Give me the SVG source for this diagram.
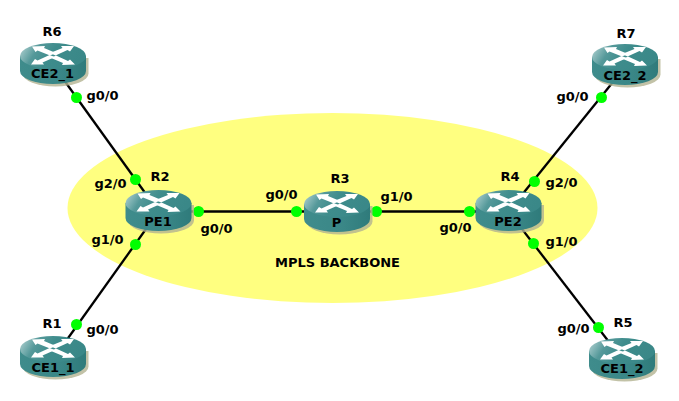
<svg xmlns="http://www.w3.org/2000/svg" width="679" height="401" viewBox="0 0 679 401">
<style>
text{font-family:"DejaVu Sans",sans-serif;font-weight:bold;font-size:13px;fill:#000;text-anchor:middle}
.l{stroke:#000;stroke-width:2.300;fill:none}
.d{fill:#00ff00}
.a{fill:#fff}
</style>
<defs>
<linearGradient id="top" x1="0" y1="0" x2="1" y2="0.25"><stop offset="0" stop-color="#bcd8d8"/><stop offset="0.3" stop-color="#55999a"/><stop offset="0.55" stop-color="#3e8c8c"/><stop offset="1" stop-color="#3a8888"/></linearGradient>
<linearGradient id="side" x1="0" y1="0" x2="1" y2="0"><stop offset="0" stop-color="#3f8c8c"/><stop offset="0.6" stop-color="#3a8787"/><stop offset="1" stop-color="#2f7b7b"/></linearGradient>
<symbol id="router" width="70" height="46" viewBox="0 0 70 46" overflow="visible">
<path d="M2.500 15V30.500A33 13 0 0 0 68.500 30.500V15Z" fill="#b3b391" opacity="0.8"/>
<path d="M0 13V28A33 13 0 0 0 66 28V13Z" fill="url(#side)"/>
<ellipse cx="33" cy="13" rx="33" ry="13" fill="url(#top)"/>
<path class="a" d="M12 3.500L25 3L24 5L36 10L30 12.500L17.500 7.500L15.500 9Z"/>
<path class="a" d="M54 3L41 3L42.500 5L30 10L35.500 12.500L47.500 7L50 8.500Z"/>
<path class="a" d="M11 21.500L24 21.500L22.500 19.500L35 14L29.500 12L17.500 17.500L15 16Z"/>
<path class="a" d="M55 21.500L42 22L43 20L31 15L36 12.500L48 18L50 16.500Z"/>
</symbol>
</defs>
<ellipse cx="332.500" cy="208" rx="265" ry="95" fill="#ffff80"/>
<g id="connectors" transform="translate(0.500 0.500)">
<path class="l" d="M53 65L158 211"/>
<path class="l" d="M53 358L158 211"/>
<path class="l" d="M158 211H508"/>
<path class="l" d="M625 66L508 211"/>
<path class="l" d="M622 359L508 211"/>
<circle class="d" cx="76" cy="97" r="5.500"/>
<circle class="d" cx="135" cy="179" r="5.500"/>
<circle class="d" cx="135" cy="244" r="5.500"/>
<circle class="d" cx="76" cy="324" r="5.500"/>
<circle class="d" cx="198" cy="211" r="5.500"/>
<circle class="d" cx="296" cy="211" r="5.500"/>
<circle class="d" cx="376" cy="211" r="5.500"/>
<circle class="d" cx="469" cy="211" r="5.500"/>
<circle class="d" cx="534" cy="181" r="5.500"/>
<circle class="d" cx="601" cy="97" r="5.500"/>
<circle class="d" cx="533" cy="243" r="5.500"/>
<circle class="d" cx="598" cy="327" r="5.500"/>
<text x="102" y="99">g0/0</text>
<text x="110" y="187">g2/0</text>
<text x="107" y="243">g1/0</text>
<text x="102" y="333">g0/0</text>
<text x="216" y="232">g0/0</text>
<text x="281" y="198">g0/0</text>
<text x="396" y="200">g1/0</text>
<text x="455" y="231">g0/0</text>
<text x="561" y="186">g2/0</text>
<text x="572" y="100">g0/0</text>
<text x="561" y="245">g1/0</text>
<text x="573" y="332">g0/0</text>
</g>
<text x="337.500" y="267">MPLS BACKBONE</text>
<g id="R6"><use href="#router" x="20" y="43"/><text x="52" y="36">R6</text><text x="52.500" y="78">CE2_1</text></g>
<g id="R7"><use href="#router" x="592" y="44"/><text x="626" y="38">R7</text><text x="625" y="80">CE2_2</text></g>
<g id="R2"><use href="#router" x="125.500" y="190"/><text x="160" y="181">R2</text><text x="158" y="226">PE1</text></g>
<g id="R3"><use href="#router" x="304" y="191"/><text x="340" y="183">R3</text><text x="336.500" y="227">P</text></g>
<g id="R4"><use href="#router" x="475.500" y="190"/><text x="510" y="181">R4</text><text x="508" y="226">PE2</text></g>
<g id="R1"><use href="#router" x="20" y="336"/><text x="52" y="328">R1</text><text x="53" y="372">CE1_1</text></g>
<g id="R5"><use href="#router" x="589" y="338"/><text x="623" y="327">R5</text><text x="622" y="373">CE1_2</text></g>
</svg>
